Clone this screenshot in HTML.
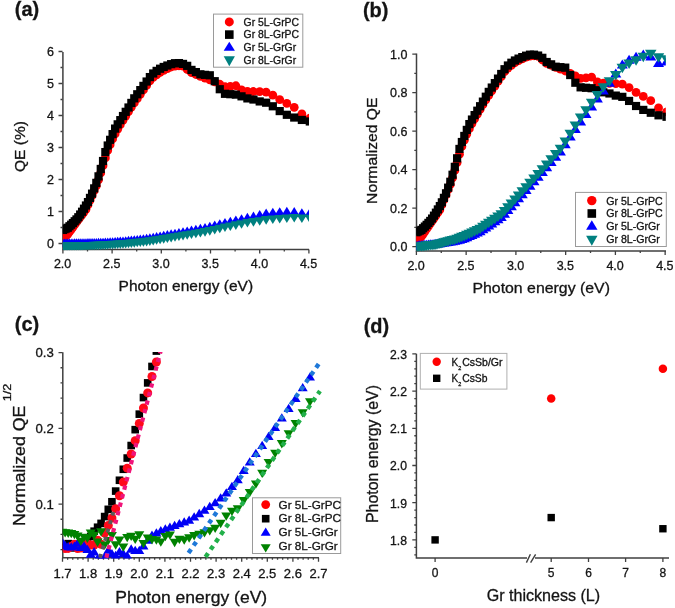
<!DOCTYPE html>
<html><head><meta charset="utf-8"><style>
html,body{margin:0;padding:0;background:#fff;}
svg{display:block;will-change:transform;filter:blur(0.35px);}
text{font-family:"Liberation Sans", sans-serif;fill:#141414;stroke:#141414;stroke-width:0.3px;}
</style></head><body>
<svg width="675" height="608" viewBox="0 0 675 608">
<rect width="675" height="608" fill="#fff"/>
<path d="M62.9 52V249.6H309" fill="none" stroke="#404040" stroke-width="1.5"/>
<text x="54" y="248.1" font-size="12.5" text-anchor="end" font-weight="normal">0</text>
<text x="54" y="216.1" font-size="12.5" text-anchor="end" font-weight="normal">1</text>
<text x="54" y="184.1" font-size="12.5" text-anchor="end" font-weight="normal">2</text>
<text x="54" y="152.1" font-size="12.5" text-anchor="end" font-weight="normal">3</text>
<text x="54" y="120.1" font-size="12.5" text-anchor="end" font-weight="normal">4</text>
<text x="54" y="88.1" font-size="12.5" text-anchor="end" font-weight="normal">5</text>
<text x="54" y="56.1" font-size="12.5" text-anchor="end" font-weight="normal">6</text>
<text x="62.6" y="268" font-size="12.5" text-anchor="middle" font-weight="normal">2.0</text>
<text x="111.8" y="268" font-size="12.5" text-anchor="middle" font-weight="normal">2.5</text>
<text x="161" y="268" font-size="12.5" text-anchor="middle" font-weight="normal">3.0</text>
<text x="210.2" y="268" font-size="12.5" text-anchor="middle" font-weight="normal">3.5</text>
<text x="259.4" y="268" font-size="12.5" text-anchor="middle" font-weight="normal">4.0</text>
<text x="308.6" y="268" font-size="12.5" text-anchor="middle" font-weight="normal">4.5</text>
<path d="M58.5 243.5H62.5M58.5 211.5H62.5M58.5 179.5H62.5M58.5 147.5H62.5M58.5 115.5H62.5M58.5 83.5H62.5M58.5 51.5H62.5M60.5 227.5H62.5M60.5 195.5H62.5M60.5 163.5H62.5M60.5 131.5H62.5M60.5 99.5H62.5M60.5 67.5H62.5M62.9 249.6V253.6M87.5 249.6V251.6M112.1 249.6V253.6M136.7 249.6V251.6M161.3 249.6V253.6M185.9 249.6V251.6M210.5 249.6V253.6M235.1 249.6V251.6M259.7 249.6V253.6M284.3 249.6V251.6M308.9 249.6V253.6" stroke="#404040" stroke-width="1.3"/>
<clipPath id="ca"><rect x="62.9" y="40" width="246.1" height="210.35"/></clipPath>
<g clip-path="url(#ca)">
<circle cx="62.9" cy="238.48" r="4.4" fill="#ff0000"/>
<circle cx="64.5" cy="237.24" r="4.4" fill="#ff0000"/>
<circle cx="66.13" cy="235.99" r="4.4" fill="#ff0000"/>
<circle cx="67.78" cy="234.15" r="4.4" fill="#ff0000"/>
<circle cx="69.46" cy="231.85" r="4.4" fill="#ff0000"/>
<circle cx="71.17" cy="229.52" r="4.4" fill="#ff0000"/>
<circle cx="72.91" cy="227.13" r="4.4" fill="#ff0000"/>
<circle cx="74.67" cy="224.69" r="4.4" fill="#ff0000"/>
<circle cx="76.47" cy="222.2" r="4.4" fill="#ff0000"/>
<circle cx="78.3" cy="219.7" r="4.4" fill="#ff0000"/>
<circle cx="80.16" cy="217.2" r="4.4" fill="#ff0000"/>
<circle cx="82.06" cy="214.65" r="4.4" fill="#ff0000"/>
<circle cx="83.99" cy="212.06" r="4.4" fill="#ff0000"/>
<circle cx="85.95" cy="209.4" r="4.4" fill="#ff0000"/>
<circle cx="87.95" cy="204.88" r="4.4" fill="#ff0000"/>
<circle cx="89.98" cy="200.27" r="4.4" fill="#ff0000"/>
<circle cx="92.06" cy="195.58" r="4.4" fill="#ff0000"/>
<circle cx="94.17" cy="190.75" r="4.4" fill="#ff0000"/>
<circle cx="96.32" cy="185.81" r="4.4" fill="#ff0000"/>
<circle cx="98.51" cy="179.84" r="4.4" fill="#ff0000"/>
<circle cx="100.75" cy="172.92" r="4.4" fill="#ff0000"/>
<circle cx="103.02" cy="165.68" r="4.4" fill="#ff0000"/>
<circle cx="105.35" cy="157.89" r="4.4" fill="#ff0000"/>
<circle cx="107.72" cy="150.46" r="4.4" fill="#ff0000"/>
<circle cx="110.13" cy="144.65" r="4.4" fill="#ff0000"/>
<circle cx="112.6" cy="138.94" r="4.4" fill="#ff0000"/>
<circle cx="115.11" cy="134" r="4.4" fill="#ff0000"/>
<circle cx="117.68" cy="129.14" r="4.4" fill="#ff0000"/>
<circle cx="120.3" cy="124.75" r="4.4" fill="#ff0000"/>
<circle cx="122.98" cy="120.36" r="4.4" fill="#ff0000"/>
<circle cx="125.71" cy="116.03" r="4.4" fill="#ff0000"/>
<circle cx="128.5" cy="111.61" r="4.4" fill="#ff0000"/>
<circle cx="131.35" cy="107.09" r="4.4" fill="#ff0000"/>
<circle cx="134.27" cy="102.88" r="4.4" fill="#ff0000"/>
<circle cx="137.25" cy="98.65" r="4.4" fill="#ff0000"/>
<circle cx="140.29" cy="94.32" r="4.4" fill="#ff0000"/>
<circle cx="143.41" cy="89.93" r="4.4" fill="#ff0000"/>
<circle cx="146.6" cy="85.46" r="4.4" fill="#ff0000"/>
<circle cx="149.86" cy="80.88" r="4.4" fill="#ff0000"/>
<circle cx="153.2" cy="77.37" r="4.4" fill="#ff0000"/>
<circle cx="156.61" cy="74.88" r="4.4" fill="#ff0000"/>
<circle cx="160.11" cy="72.33" r="4.4" fill="#ff0000"/>
<circle cx="163.7" cy="70.38" r="4.4" fill="#ff0000"/>
<circle cx="167.37" cy="68.7" r="4.4" fill="#ff0000"/>
<circle cx="171.14" cy="66.99" r="4.4" fill="#ff0000"/>
<circle cx="175" cy="66.05" r="4.4" fill="#ff0000"/>
<circle cx="178.96" cy="65.73" r="4.4" fill="#ff0000"/>
<circle cx="183.02" cy="66.15" r="4.4" fill="#ff0000"/>
<circle cx="187.19" cy="69.48" r="4.4" fill="#ff0000"/>
<circle cx="191.48" cy="72.64" r="4.4" fill="#ff0000"/>
<circle cx="195.87" cy="74.48" r="4.4" fill="#ff0000"/>
<circle cx="200.39" cy="76.37" r="4.4" fill="#ff0000"/>
<circle cx="205.03" cy="78.08" r="4.4" fill="#ff0000"/>
<circle cx="209.81" cy="79.82" r="4.4" fill="#ff0000"/>
<circle cx="214.72" cy="81.93" r="4.4" fill="#ff0000"/>
<circle cx="219.77" cy="84.25" r="4.4" fill="#ff0000"/>
<circle cx="224.97" cy="86.74" r="4.4" fill="#ff0000"/>
<circle cx="230.33" cy="86.34" r="4.4" fill="#ff0000"/>
<circle cx="235.85" cy="85.75" r="4.4" fill="#ff0000"/>
<circle cx="241.53" cy="89.83" r="4.4" fill="#ff0000"/>
<circle cx="247.4" cy="91.32" r="4.4" fill="#ff0000"/>
<circle cx="253.45" cy="91.52" r="4.4" fill="#ff0000"/>
<circle cx="259.7" cy="91.72" r="4.4" fill="#ff0000"/>
<circle cx="266.15" cy="92.05" r="4.4" fill="#ff0000"/>
<circle cx="272.82" cy="95.2" r="4.4" fill="#ff0000"/>
<circle cx="279.71" cy="99.57" r="4.4" fill="#ff0000"/>
<circle cx="286.84" cy="103.43" r="4.4" fill="#ff0000"/>
<circle cx="294.23" cy="107.36" r="4.4" fill="#ff0000"/>
<circle cx="301.87" cy="113.89" r="4.4" fill="#ff0000"/>
<circle cx="309.79" cy="118.06" r="4.4" fill="#ff0000"/>
<rect x="58.8" y="225.84" width="8.2" height="8.2" fill="#000000"/>
<rect x="60.4" y="225.13" width="8.2" height="8.2" fill="#000000"/>
<rect x="62.03" y="224.42" width="8.2" height="8.2" fill="#000000"/>
<rect x="63.68" y="223.69" width="8.2" height="8.2" fill="#000000"/>
<rect x="65.36" y="222.16" width="8.2" height="8.2" fill="#000000"/>
<rect x="67.07" y="220.59" width="8.2" height="8.2" fill="#000000"/>
<rect x="68.81" y="218.98" width="8.2" height="8.2" fill="#000000"/>
<rect x="70.57" y="217.16" width="8.2" height="8.2" fill="#000000"/>
<rect x="72.37" y="215.31" width="8.2" height="8.2" fill="#000000"/>
<rect x="74.2" y="213.14" width="8.2" height="8.2" fill="#000000"/>
<rect x="76.06" y="210.41" width="8.2" height="8.2" fill="#000000"/>
<rect x="77.96" y="207.62" width="8.2" height="8.2" fill="#000000"/>
<rect x="79.89" y="204.58" width="8.2" height="8.2" fill="#000000"/>
<rect x="81.85" y="201.41" width="8.2" height="8.2" fill="#000000"/>
<rect x="83.85" y="197.98" width="8.2" height="8.2" fill="#000000"/>
<rect x="85.88" y="193.79" width="8.2" height="8.2" fill="#000000"/>
<rect x="87.96" y="189.53" width="8.2" height="8.2" fill="#000000"/>
<rect x="90.07" y="184.28" width="8.2" height="8.2" fill="#000000"/>
<rect x="92.22" y="178.75" width="8.2" height="8.2" fill="#000000"/>
<rect x="94.41" y="172.25" width="8.2" height="8.2" fill="#000000"/>
<rect x="96.65" y="164.85" width="8.2" height="8.2" fill="#000000"/>
<rect x="98.92" y="156.9" width="8.2" height="8.2" fill="#000000"/>
<rect x="101.25" y="147.99" width="8.2" height="8.2" fill="#000000"/>
<rect x="103.62" y="141.41" width="8.2" height="8.2" fill="#000000"/>
<rect x="106.03" y="135.72" width="8.2" height="8.2" fill="#000000"/>
<rect x="108.5" y="130.03" width="8.2" height="8.2" fill="#000000"/>
<rect x="111.01" y="124.49" width="8.2" height="8.2" fill="#000000"/>
<rect x="113.58" y="120.24" width="8.2" height="8.2" fill="#000000"/>
<rect x="116.2" y="116.04" width="8.2" height="8.2" fill="#000000"/>
<rect x="118.88" y="111.92" width="8.2" height="8.2" fill="#000000"/>
<rect x="121.61" y="107.71" width="8.2" height="8.2" fill="#000000"/>
<rect x="124.4" y="103.4" width="8.2" height="8.2" fill="#000000"/>
<rect x="127.25" y="98.81" width="8.2" height="8.2" fill="#000000"/>
<rect x="130.17" y="94.23" width="8.2" height="8.2" fill="#000000"/>
<rect x="133.15" y="90.17" width="8.2" height="8.2" fill="#000000"/>
<rect x="136.19" y="86.02" width="8.2" height="8.2" fill="#000000"/>
<rect x="139.31" y="81.78" width="8.2" height="8.2" fill="#000000"/>
<rect x="142.5" y="77.43" width="8.2" height="8.2" fill="#000000"/>
<rect x="145.76" y="72.98" width="8.2" height="8.2" fill="#000000"/>
<rect x="149.1" y="69.37" width="8.2" height="8.2" fill="#000000"/>
<rect x="152.51" y="66.78" width="8.2" height="8.2" fill="#000000"/>
<rect x="156.01" y="64.61" width="8.2" height="8.2" fill="#000000"/>
<rect x="159.6" y="62.86" width="8.2" height="8.2" fill="#000000"/>
<rect x="163.27" y="61.41" width="8.2" height="8.2" fill="#000000"/>
<rect x="167.04" y="60.05" width="8.2" height="8.2" fill="#000000"/>
<rect x="170.9" y="59.1" width="8.2" height="8.2" fill="#000000"/>
<rect x="174.86" y="58.99" width="8.2" height="8.2" fill="#000000"/>
<rect x="178.92" y="59.82" width="8.2" height="8.2" fill="#000000"/>
<rect x="183.09" y="61.74" width="8.2" height="8.2" fill="#000000"/>
<rect x="187.38" y="65.8" width="8.2" height="8.2" fill="#000000"/>
<rect x="191.77" y="67.98" width="8.2" height="8.2" fill="#000000"/>
<rect x="196.29" y="70.22" width="8.2" height="8.2" fill="#000000"/>
<rect x="200.93" y="70.75" width="8.2" height="8.2" fill="#000000"/>
<rect x="205.71" y="71.19" width="8.2" height="8.2" fill="#000000"/>
<rect x="210.62" y="77.1" width="8.2" height="8.2" fill="#000000"/>
<rect x="215.67" y="85.12" width="8.2" height="8.2" fill="#000000"/>
<rect x="220.87" y="89.71" width="8.2" height="8.2" fill="#000000"/>
<rect x="226.23" y="90.1" width="8.2" height="8.2" fill="#000000"/>
<rect x="231.75" y="90.51" width="8.2" height="8.2" fill="#000000"/>
<rect x="237.43" y="92.24" width="8.2" height="8.2" fill="#000000"/>
<rect x="243.3" y="94.31" width="8.2" height="8.2" fill="#000000"/>
<rect x="249.35" y="95.42" width="8.2" height="8.2" fill="#000000"/>
<rect x="255.6" y="97.34" width="8.2" height="8.2" fill="#000000"/>
<rect x="262.05" y="98.6" width="8.2" height="8.2" fill="#000000"/>
<rect x="268.72" y="102.18" width="8.2" height="8.2" fill="#000000"/>
<rect x="275.61" y="106.98" width="8.2" height="8.2" fill="#000000"/>
<rect x="282.74" y="110.69" width="8.2" height="8.2" fill="#000000"/>
<rect x="290.13" y="113.44" width="8.2" height="8.2" fill="#000000"/>
<rect x="297.77" y="115.85" width="8.2" height="8.2" fill="#000000"/>
<rect x="305.69" y="117.36" width="8.2" height="8.2" fill="#000000"/>
<path d="M57.65 247.16L68.15 247.16L62.9 238.56Z" fill="#0000ff"/>
<path d="M59.25 247.13L69.75 247.13L64.5 238.53Z" fill="#0000ff"/>
<path d="M60.88 247.11L71.38 247.11L66.13 238.51Z" fill="#0000ff"/>
<path d="M62.53 247.08L73.03 247.08L67.78 238.48Z" fill="#0000ff"/>
<path d="M64.21 247.05L74.71 247.05L69.46 238.45Z" fill="#0000ff"/>
<path d="M65.92 247.03L76.42 247.03L71.17 238.43Z" fill="#0000ff"/>
<path d="M67.66 247L78.16 247L72.91 238.4Z" fill="#0000ff"/>
<path d="M69.42 246.97L79.92 246.97L74.67 238.37Z" fill="#0000ff"/>
<path d="M71.22 246.94L81.72 246.94L76.47 238.34Z" fill="#0000ff"/>
<path d="M73.05 246.91L83.55 246.91L78.3 238.31Z" fill="#0000ff"/>
<path d="M74.91 246.88L85.41 246.88L80.16 238.28Z" fill="#0000ff"/>
<path d="M76.81 246.85L87.31 246.85L82.06 238.25Z" fill="#0000ff"/>
<path d="M78.74 246.8L89.24 246.8L83.99 238.2Z" fill="#0000ff"/>
<path d="M80.7 246.75L91.2 246.75L85.95 238.15Z" fill="#0000ff"/>
<path d="M82.7 246.7L93.2 246.7L87.95 238.1Z" fill="#0000ff"/>
<path d="M84.73 246.65L95.23 246.65L89.98 238.05Z" fill="#0000ff"/>
<path d="M86.81 246.59L97.31 246.59L92.06 237.99Z" fill="#0000ff"/>
<path d="M88.92 246.54L99.42 246.54L94.17 237.94Z" fill="#0000ff"/>
<path d="M91.07 246.48L101.57 246.48L96.32 237.88Z" fill="#0000ff"/>
<path d="M93.26 246.43L103.76 246.43L98.51 237.83Z" fill="#0000ff"/>
<path d="M95.5 246.37L106 246.37L100.75 237.77Z" fill="#0000ff"/>
<path d="M97.77 246.29L108.27 246.29L103.02 237.69Z" fill="#0000ff"/>
<path d="M100.1 246.17L110.6 246.17L105.35 237.57Z" fill="#0000ff"/>
<path d="M102.47 246.04L112.97 246.04L107.72 237.44Z" fill="#0000ff"/>
<path d="M104.88 245.92L115.38 245.92L110.13 237.32Z" fill="#0000ff"/>
<path d="M107.35 245.78L117.85 245.78L112.6 237.18Z" fill="#0000ff"/>
<path d="M109.86 245.59L120.36 245.59L115.11 236.99Z" fill="#0000ff"/>
<path d="M112.43 245.39L122.93 245.39L117.68 236.79Z" fill="#0000ff"/>
<path d="M115.05 245.19L125.55 245.19L120.3 236.59Z" fill="#0000ff"/>
<path d="M117.73 244.98L128.23 244.98L122.98 236.38Z" fill="#0000ff"/>
<path d="M120.46 244.77L130.96 244.77L125.71 236.17Z" fill="#0000ff"/>
<path d="M123.25 244.47L133.75 244.47L128.5 235.87Z" fill="#0000ff"/>
<path d="M126.1 244.14L136.6 244.14L131.35 235.54Z" fill="#0000ff"/>
<path d="M129.02 243.82L139.52 243.82L134.27 235.22Z" fill="#0000ff"/>
<path d="M132 243.48L142.5 243.48L137.25 234.88Z" fill="#0000ff"/>
<path d="M135.04 243.14L145.54 243.14L140.29 234.54Z" fill="#0000ff"/>
<path d="M138.16 242.79L148.66 242.79L143.41 234.19Z" fill="#0000ff"/>
<path d="M141.35 242.43L151.85 242.43L146.6 233.83Z" fill="#0000ff"/>
<path d="M144.61 241.89L155.11 241.89L149.86 233.29Z" fill="#0000ff"/>
<path d="M147.95 241.27L158.45 241.27L153.2 232.67Z" fill="#0000ff"/>
<path d="M151.36 240.64L161.86 240.64L156.61 232.04Z" fill="#0000ff"/>
<path d="M154.86 239.99L165.36 239.99L160.11 231.39Z" fill="#0000ff"/>
<path d="M158.45 239.32L168.95 239.32L163.7 230.72Z" fill="#0000ff"/>
<path d="M162.12 238.64L172.62 238.64L167.37 230.04Z" fill="#0000ff"/>
<path d="M165.89 237.94L176.39 237.94L171.14 229.34Z" fill="#0000ff"/>
<path d="M169.75 237.23L180.25 237.23L175 228.63Z" fill="#0000ff"/>
<path d="M173.71 236.5L184.21 236.5L178.96 227.9Z" fill="#0000ff"/>
<path d="M177.77 235.75L188.27 235.75L183.02 227.15Z" fill="#0000ff"/>
<path d="M181.94 234.98L192.44 234.98L187.19 226.38Z" fill="#0000ff"/>
<path d="M186.23 234.17L196.73 234.17L191.48 225.57Z" fill="#0000ff"/>
<path d="M190.62 233.32L201.12 233.32L195.87 224.72Z" fill="#0000ff"/>
<path d="M195.14 232.45L205.64 232.45L200.39 223.85Z" fill="#0000ff"/>
<path d="M199.78 231.55L210.28 231.55L205.03 222.95Z" fill="#0000ff"/>
<path d="M204.56 230.39L215.06 230.39L209.81 221.79Z" fill="#0000ff"/>
<path d="M209.47 229.09L219.97 229.09L214.72 220.49Z" fill="#0000ff"/>
<path d="M214.52 227.82L225.02 227.82L219.77 219.22Z" fill="#0000ff"/>
<path d="M219.72 226.61L230.22 226.61L224.97 218.01Z" fill="#0000ff"/>
<path d="M225.08 225.37L235.58 225.37L230.33 216.77Z" fill="#0000ff"/>
<path d="M230.6 224.08L241.1 224.08L235.85 215.48Z" fill="#0000ff"/>
<path d="M236.28 222.78L246.78 222.78L241.53 214.18Z" fill="#0000ff"/>
<path d="M242.15 221.46L252.65 221.46L247.4 212.86Z" fill="#0000ff"/>
<path d="M248.2 220.18L258.7 220.18L253.45 211.58Z" fill="#0000ff"/>
<path d="M254.45 218.62L264.95 218.62L259.7 210.02Z" fill="#0000ff"/>
<path d="M260.9 217.15L271.4 217.15L266.15 208.55Z" fill="#0000ff"/>
<path d="M267.57 216.28L278.07 216.28L272.82 207.68Z" fill="#0000ff"/>
<path d="M274.46 215.78L284.96 215.78L279.71 207.18Z" fill="#0000ff"/>
<path d="M281.59 215.39L292.09 215.39L286.84 206.79Z" fill="#0000ff"/>
<path d="M288.98 215.66L299.48 215.66L294.23 207.06Z" fill="#0000ff"/>
<path d="M296.62 216.82L307.12 216.82L301.87 208.22Z" fill="#0000ff"/>
<path d="M304.54 216.54L315.04 216.54L309.79 207.94Z" fill="#0000ff"/>
<path d="M57.65 242.61L68.15 242.61L62.9 251.21Z" fill="#008080"/>
<path d="M59.25 242.58L69.75 242.58L64.5 251.18Z" fill="#008080"/>
<path d="M60.88 242.55L71.38 242.55L66.13 251.15Z" fill="#008080"/>
<path d="M62.53 242.53L73.03 242.53L67.78 251.13Z" fill="#008080"/>
<path d="M64.21 242.5L74.71 242.5L69.46 251.1Z" fill="#008080"/>
<path d="M65.92 242.47L76.42 242.47L71.17 251.07Z" fill="#008080"/>
<path d="M67.66 242.44L78.16 242.44L72.91 251.04Z" fill="#008080"/>
<path d="M69.42 242.41L79.92 242.41L74.67 251.01Z" fill="#008080"/>
<path d="M71.22 242.37L81.72 242.37L76.47 250.97Z" fill="#008080"/>
<path d="M73.05 242.34L83.55 242.34L78.3 250.94Z" fill="#008080"/>
<path d="M74.91 242.31L85.41 242.31L80.16 250.91Z" fill="#008080"/>
<path d="M76.81 242.28L87.31 242.28L82.06 250.88Z" fill="#008080"/>
<path d="M78.74 242.21L89.24 242.21L83.99 250.81Z" fill="#008080"/>
<path d="M80.7 242.13L91.2 242.13L85.95 250.73Z" fill="#008080"/>
<path d="M82.7 242.05L93.2 242.05L87.95 250.65Z" fill="#008080"/>
<path d="M84.73 241.97L95.23 241.97L89.98 250.57Z" fill="#008080"/>
<path d="M86.81 241.88L97.31 241.88L92.06 250.48Z" fill="#008080"/>
<path d="M88.92 241.8L99.42 241.8L94.17 250.4Z" fill="#008080"/>
<path d="M91.07 241.71L101.57 241.71L96.32 250.31Z" fill="#008080"/>
<path d="M93.26 241.62L103.76 241.62L98.51 250.22Z" fill="#008080"/>
<path d="M95.5 241.53L106 241.53L100.75 250.13Z" fill="#008080"/>
<path d="M97.77 241.42L108.27 241.42L103.02 250.02Z" fill="#008080"/>
<path d="M100.1 241.29L110.6 241.29L105.35 249.89Z" fill="#008080"/>
<path d="M102.47 241.15L112.97 241.15L107.72 249.75Z" fill="#008080"/>
<path d="M104.88 241.01L115.38 241.01L110.13 249.61Z" fill="#008080"/>
<path d="M107.35 240.86L117.85 240.86L112.6 249.46Z" fill="#008080"/>
<path d="M109.86 240.68L120.36 240.68L115.11 249.28Z" fill="#008080"/>
<path d="M112.43 240.5L122.93 240.5L117.68 249.1Z" fill="#008080"/>
<path d="M115.05 240.32L125.55 240.32L120.3 248.92Z" fill="#008080"/>
<path d="M117.73 240.13L128.23 240.13L122.98 248.73Z" fill="#008080"/>
<path d="M120.46 239.94L130.96 239.94L125.71 248.54Z" fill="#008080"/>
<path d="M123.25 239.66L133.75 239.66L128.5 248.26Z" fill="#008080"/>
<path d="M126.1 239.37L136.6 239.37L131.35 247.97Z" fill="#008080"/>
<path d="M129.02 239.07L139.52 239.07L134.27 247.67Z" fill="#008080"/>
<path d="M132 238.77L142.5 238.77L137.25 247.37Z" fill="#008080"/>
<path d="M135.04 238.46L145.54 238.46L140.29 247.06Z" fill="#008080"/>
<path d="M138.16 238.14L148.66 238.14L143.41 246.74Z" fill="#008080"/>
<path d="M141.35 237.82L151.85 237.82L146.6 246.42Z" fill="#008080"/>
<path d="M144.61 237.34L155.11 237.34L149.86 245.94Z" fill="#008080"/>
<path d="M147.95 236.78L158.45 236.78L153.2 245.38Z" fill="#008080"/>
<path d="M151.36 236.22L161.86 236.22L156.61 244.82Z" fill="#008080"/>
<path d="M154.86 235.63L165.36 235.63L160.11 244.23Z" fill="#008080"/>
<path d="M158.45 235.04L168.95 235.04L163.7 243.64Z" fill="#008080"/>
<path d="M162.12 234.43L172.62 234.43L167.37 243.03Z" fill="#008080"/>
<path d="M165.89 233.81L176.39 233.81L171.14 242.41Z" fill="#008080"/>
<path d="M169.75 233.17L180.25 233.17L175 241.77Z" fill="#008080"/>
<path d="M173.71 232.52L184.21 232.52L178.96 241.12Z" fill="#008080"/>
<path d="M177.77 231.85L188.27 231.85L183.02 240.45Z" fill="#008080"/>
<path d="M181.94 231.16L192.44 231.16L187.19 239.76Z" fill="#008080"/>
<path d="M186.23 230.44L196.73 230.44L191.48 239.04Z" fill="#008080"/>
<path d="M190.62 229.68L201.12 229.68L195.87 238.28Z" fill="#008080"/>
<path d="M195.14 228.9L205.64 228.9L200.39 237.5Z" fill="#008080"/>
<path d="M199.78 228.1L210.28 228.1L205.03 236.7Z" fill="#008080"/>
<path d="M204.56 227.07L215.06 227.07L209.81 235.67Z" fill="#008080"/>
<path d="M209.47 225.9L219.97 225.9L214.72 234.5Z" fill="#008080"/>
<path d="M214.52 224.7L225.02 224.7L219.77 233.3Z" fill="#008080"/>
<path d="M219.72 223.5L230.22 223.5L224.97 232.1Z" fill="#008080"/>
<path d="M225.08 222.42L235.58 222.42L230.33 231.02Z" fill="#008080"/>
<path d="M230.6 221.31L241.1 221.31L235.85 229.91Z" fill="#008080"/>
<path d="M236.28 220.16L246.78 220.16L241.53 228.76Z" fill="#008080"/>
<path d="M242.15 218.99L252.65 218.99L247.4 227.59Z" fill="#008080"/>
<path d="M248.2 218.1L258.7 218.1L253.45 226.7Z" fill="#008080"/>
<path d="M254.45 217.18L264.95 217.18L259.7 225.78Z" fill="#008080"/>
<path d="M260.9 216.12L271.4 216.12L266.15 224.72Z" fill="#008080"/>
<path d="M267.57 215.43L278.07 215.43L272.82 224.03Z" fill="#008080"/>
<path d="M274.46 214.95L284.96 214.95L279.71 223.55Z" fill="#008080"/>
<path d="M281.59 214.44L292.09 214.44L286.84 223.04Z" fill="#008080"/>
<path d="M288.98 213.93L299.48 213.93L294.23 222.53Z" fill="#008080"/>
<path d="M296.62 214.44L307.12 214.44L301.87 223.04Z" fill="#008080"/>
<path d="M304.54 214.78L315.04 214.78L309.79 223.38Z" fill="#008080"/>
</g>
<text x="185.85" y="291" font-size="15" text-anchor="middle" font-weight="normal" textLength="134.5" lengthAdjust="spacingAndGlyphs">Photon energy (eV)</text>
<text transform="translate(25.3,146.5) rotate(-90)" font-size="15" text-anchor="middle" textLength="51" lengthAdjust="spacingAndGlyphs">QE (%)</text>
<text x="14.8" y="15.6" font-size="20.5" text-anchor="start" font-weight="bold" textLength="24.5" lengthAdjust="spacingAndGlyphs">(a)</text>
<rect x="213.5" y="14.1" width="89.3" height="53.1" fill="#fff" stroke="#9a9a9a" stroke-width="1"/>
<circle cx="229.3" cy="21.9" r="4.5" fill="#ff0000"/>
<rect x="225" y="30.3" width="8.6" height="8.6" fill="#000000"/>
<path d="M223.7 50.7L234.9 50.7L229.3 41.7Z" fill="#0000ff"/>
<path d="M223.7 56.3L234.9 56.3L229.3 66.3Z" fill="#008080"/>
<text x="243.6" y="26" font-size="10.4" text-anchor="start" font-weight="normal" textLength="55.47" lengthAdjust="spacingAndGlyphs">Gr 5L-GrPC</text>
<text x="243.6" y="38.3" font-size="10.4" text-anchor="start" font-weight="normal" textLength="55.47" lengthAdjust="spacingAndGlyphs">Gr 8L-GrPC</text>
<text x="243.6" y="51" font-size="10.4" text-anchor="start" font-weight="normal" textLength="52.58" lengthAdjust="spacingAndGlyphs">Gr 5L-GrGr</text>
<text x="243.6" y="63.5" font-size="10.4" text-anchor="start" font-weight="normal" textLength="52.58" lengthAdjust="spacingAndGlyphs">Gr 8L-GrGr</text>
<path d="M416.5 53.5V250.9H666" fill="none" stroke="#404040" stroke-width="1.5"/>
<text x="407.4" y="251.1" font-size="12.5" text-anchor="end" font-weight="normal">0.0</text>
<text x="407.4" y="212.6" font-size="12.5" text-anchor="end" font-weight="normal">0.2</text>
<text x="407.4" y="174.1" font-size="12.5" text-anchor="end" font-weight="normal">0.4</text>
<text x="407.4" y="135.6" font-size="12.5" text-anchor="end" font-weight="normal">0.6</text>
<text x="407.4" y="97.1" font-size="12.5" text-anchor="end" font-weight="normal">0.8</text>
<text x="407.4" y="58.6" font-size="12.5" text-anchor="end" font-weight="normal">1.0</text>
<text x="416.1" y="269.5" font-size="12.5" text-anchor="middle" font-weight="normal">2.0</text>
<text x="465.85" y="269.5" font-size="12.5" text-anchor="middle" font-weight="normal">2.5</text>
<text x="515.6" y="269.5" font-size="12.5" text-anchor="middle" font-weight="normal">3.0</text>
<text x="565.35" y="269.5" font-size="12.5" text-anchor="middle" font-weight="normal">3.5</text>
<text x="615.1" y="269.5" font-size="12.5" text-anchor="middle" font-weight="normal">4.0</text>
<text x="664.85" y="269.5" font-size="12.5" text-anchor="middle" font-weight="normal">4.5</text>
<path d="M412.3 246.7H416.3M414.3 227.45H416.3M412.3 208.2H416.3M414.3 188.95H416.3M412.3 169.7H416.3M414.3 150.45H416.3M412.3 131.2H416.3M414.3 111.95H416.3M412.3 92.7H416.3M414.3 73.45H416.3M412.3 54.2H416.3M416.4 250.9V254.9M441.27 250.9V252.9M466.15 250.9V254.9M491.02 250.9V252.9M515.9 250.9V254.9M540.77 250.9V252.9M565.65 250.9V254.9M590.52 250.9V252.9M615.4 250.9V254.9M640.27 250.9V252.9M665.15 250.9V254.9" stroke="#404040" stroke-width="1.3"/>
<clipPath id="cb"><rect x="416.5" y="40" width="249.3" height="211.6"/></clipPath>
<g clip-path="url(#cb)">
<circle cx="416.5" cy="241.23" r="4.4" fill="#ff0000"/>
<circle cx="418.12" cy="239.9" r="4.4" fill="#ff0000"/>
<circle cx="419.76" cy="238.55" r="4.4" fill="#ff0000"/>
<circle cx="421.44" cy="236.51" r="4.4" fill="#ff0000"/>
<circle cx="423.14" cy="234.04" r="4.4" fill="#ff0000"/>
<circle cx="424.87" cy="231.53" r="4.4" fill="#ff0000"/>
<circle cx="426.63" cy="228.96" r="4.4" fill="#ff0000"/>
<circle cx="428.41" cy="226.34" r="4.4" fill="#ff0000"/>
<circle cx="430.23" cy="223.66" r="4.4" fill="#ff0000"/>
<circle cx="432.09" cy="220.97" r="4.4" fill="#ff0000"/>
<circle cx="433.97" cy="218.28" r="4.4" fill="#ff0000"/>
<circle cx="435.89" cy="215.54" r="4.4" fill="#ff0000"/>
<circle cx="437.84" cy="212.76" r="4.4" fill="#ff0000"/>
<circle cx="439.83" cy="209.78" r="4.4" fill="#ff0000"/>
<circle cx="441.85" cy="204.92" r="4.4" fill="#ff0000"/>
<circle cx="443.91" cy="199.96" r="4.4" fill="#ff0000"/>
<circle cx="446.01" cy="194.92" r="4.4" fill="#ff0000"/>
<circle cx="448.15" cy="189.72" r="4.4" fill="#ff0000"/>
<circle cx="450.32" cy="184.41" r="4.4" fill="#ff0000"/>
<circle cx="452.54" cy="177.87" r="4.4" fill="#ff0000"/>
<circle cx="454.81" cy="170.43" r="4.4" fill="#ff0000"/>
<circle cx="457.11" cy="162.6" r="4.4" fill="#ff0000"/>
<circle cx="459.46" cy="154.23" r="4.4" fill="#ff0000"/>
<circle cx="461.86" cy="146.39" r="4.4" fill="#ff0000"/>
<circle cx="464.31" cy="140.14" r="4.4" fill="#ff0000"/>
<circle cx="466.8" cy="134.07" r="4.4" fill="#ff0000"/>
<circle cx="469.35" cy="128.75" r="4.4" fill="#ff0000"/>
<circle cx="471.95" cy="123.57" r="4.4" fill="#ff0000"/>
<circle cx="474.6" cy="118.85" r="4.4" fill="#ff0000"/>
<circle cx="477.31" cy="114.15" r="4.4" fill="#ff0000"/>
<circle cx="480.08" cy="109.49" r="4.4" fill="#ff0000"/>
<circle cx="482.9" cy="104.73" r="4.4" fill="#ff0000"/>
<circle cx="485.79" cy="99.87" r="4.4" fill="#ff0000"/>
<circle cx="488.74" cy="95.37" r="4.4" fill="#ff0000"/>
<circle cx="491.76" cy="90.82" r="4.4" fill="#ff0000"/>
<circle cx="494.85" cy="86.16" r="4.4" fill="#ff0000"/>
<circle cx="498" cy="81.44" r="4.4" fill="#ff0000"/>
<circle cx="501.23" cy="76.63" r="4.4" fill="#ff0000"/>
<circle cx="504.53" cy="71.71" r="4.4" fill="#ff0000"/>
<circle cx="507.91" cy="68.08" r="4.4" fill="#ff0000"/>
<circle cx="511.37" cy="65.4" r="4.4" fill="#ff0000"/>
<circle cx="514.92" cy="62.66" r="4.4" fill="#ff0000"/>
<circle cx="518.55" cy="60.62" r="4.4" fill="#ff0000"/>
<circle cx="522.27" cy="58.82" r="4.4" fill="#ff0000"/>
<circle cx="526.08" cy="57.03" r="4.4" fill="#ff0000"/>
<circle cx="529.99" cy="56.02" r="4.4" fill="#ff0000"/>
<circle cx="534" cy="55.76" r="4.4" fill="#ff0000"/>
<circle cx="538.12" cy="56.4" r="4.4" fill="#ff0000"/>
<circle cx="542.34" cy="59.98" r="4.4" fill="#ff0000"/>
<circle cx="546.68" cy="63.27" r="4.4" fill="#ff0000"/>
<circle cx="551.13" cy="65.26" r="4.4" fill="#ff0000"/>
<circle cx="555.71" cy="67.29" r="4.4" fill="#ff0000"/>
<circle cx="560.41" cy="69.11" r="4.4" fill="#ff0000"/>
<circle cx="565.24" cy="70.98" r="4.4" fill="#ff0000"/>
<circle cx="570.22" cy="73.29" r="4.4" fill="#ff0000"/>
<circle cx="575.33" cy="75.79" r="4.4" fill="#ff0000"/>
<circle cx="580.6" cy="78.45" r="4.4" fill="#ff0000"/>
<circle cx="586.03" cy="77.84" r="4.4" fill="#ff0000"/>
<circle cx="591.62" cy="77.21" r="4.4" fill="#ff0000"/>
<circle cx="597.38" cy="81.97" r="4.4" fill="#ff0000"/>
<circle cx="603.32" cy="83.24" r="4.4" fill="#ff0000"/>
<circle cx="609.46" cy="83.45" r="4.4" fill="#ff0000"/>
<circle cx="615.79" cy="83.67" r="4.4" fill="#ff0000"/>
<circle cx="622.32" cy="84.04" r="4.4" fill="#ff0000"/>
<circle cx="629.08" cy="87.61" r="4.4" fill="#ff0000"/>
<circle cx="636.06" cy="92.4" r="4.4" fill="#ff0000"/>
<circle cx="643.29" cy="96.47" r="4.4" fill="#ff0000"/>
<circle cx="650.77" cy="100.72" r="4.4" fill="#ff0000"/>
<circle cx="658.52" cy="107.95" r="4.4" fill="#ff0000"/>
<circle cx="666.54" cy="111.95" r="4.4" fill="#ff0000"/>
<rect x="412.4" y="228.12" width="8.2" height="8.2" fill="#000000"/>
<rect x="414.02" y="227.37" width="8.2" height="8.2" fill="#000000"/>
<rect x="415.66" y="226.6" width="8.2" height="8.2" fill="#000000"/>
<rect x="417.34" y="225.79" width="8.2" height="8.2" fill="#000000"/>
<rect x="419.04" y="224.15" width="8.2" height="8.2" fill="#000000"/>
<rect x="420.77" y="222.48" width="8.2" height="8.2" fill="#000000"/>
<rect x="422.53" y="220.74" width="8.2" height="8.2" fill="#000000"/>
<rect x="424.31" y="218.8" width="8.2" height="8.2" fill="#000000"/>
<rect x="426.13" y="216.83" width="8.2" height="8.2" fill="#000000"/>
<rect x="427.99" y="214.47" width="8.2" height="8.2" fill="#000000"/>
<rect x="429.87" y="211.56" width="8.2" height="8.2" fill="#000000"/>
<rect x="431.79" y="208.59" width="8.2" height="8.2" fill="#000000"/>
<rect x="433.74" y="205.33" width="8.2" height="8.2" fill="#000000"/>
<rect x="435.73" y="201.95" width="8.2" height="8.2" fill="#000000"/>
<rect x="437.75" y="198.23" width="8.2" height="8.2" fill="#000000"/>
<rect x="439.81" y="193.77" width="8.2" height="8.2" fill="#000000"/>
<rect x="441.91" y="189.22" width="8.2" height="8.2" fill="#000000"/>
<rect x="444.05" y="183.56" width="8.2" height="8.2" fill="#000000"/>
<rect x="446.22" y="177.66" width="8.2" height="8.2" fill="#000000"/>
<rect x="448.44" y="170.63" width="8.2" height="8.2" fill="#000000"/>
<rect x="450.71" y="162.75" width="8.2" height="8.2" fill="#000000"/>
<rect x="453.01" y="154.2" width="8.2" height="8.2" fill="#000000"/>
<rect x="455.36" y="144.84" width="8.2" height="8.2" fill="#000000"/>
<rect x="457.76" y="137.91" width="8.2" height="8.2" fill="#000000"/>
<rect x="460.21" y="131.84" width="8.2" height="8.2" fill="#000000"/>
<rect x="462.7" y="125.8" width="8.2" height="8.2" fill="#000000"/>
<rect x="465.25" y="119.99" width="8.2" height="8.2" fill="#000000"/>
<rect x="467.85" y="115.45" width="8.2" height="8.2" fill="#000000"/>
<rect x="470.5" y="110.99" width="8.2" height="8.2" fill="#000000"/>
<rect x="473.21" y="106.61" width="8.2" height="8.2" fill="#000000"/>
<rect x="475.98" y="102.12" width="8.2" height="8.2" fill="#000000"/>
<rect x="478.8" y="97.52" width="8.2" height="8.2" fill="#000000"/>
<rect x="481.69" y="92.62" width="8.2" height="8.2" fill="#000000"/>
<rect x="484.64" y="87.78" width="8.2" height="8.2" fill="#000000"/>
<rect x="487.66" y="83.46" width="8.2" height="8.2" fill="#000000"/>
<rect x="490.75" y="79.03" width="8.2" height="8.2" fill="#000000"/>
<rect x="493.9" y="74.5" width="8.2" height="8.2" fill="#000000"/>
<rect x="497.13" y="69.87" width="8.2" height="8.2" fill="#000000"/>
<rect x="500.43" y="65.13" width="8.2" height="8.2" fill="#000000"/>
<rect x="503.81" y="61.4" width="8.2" height="8.2" fill="#000000"/>
<rect x="507.27" y="58.64" width="8.2" height="8.2" fill="#000000"/>
<rect x="510.82" y="56.39" width="8.2" height="8.2" fill="#000000"/>
<rect x="514.45" y="54.52" width="8.2" height="8.2" fill="#000000"/>
<rect x="518.17" y="53.01" width="8.2" height="8.2" fill="#000000"/>
<rect x="521.98" y="51.58" width="8.2" height="8.2" fill="#000000"/>
<rect x="525.89" y="50.57" width="8.2" height="8.2" fill="#000000"/>
<rect x="529.9" y="50.57" width="8.2" height="8.2" fill="#000000"/>
<rect x="534.02" y="51.45" width="8.2" height="8.2" fill="#000000"/>
<rect x="538.24" y="53.72" width="8.2" height="8.2" fill="#000000"/>
<rect x="542.58" y="57.9" width="8.2" height="8.2" fill="#000000"/>
<rect x="547.03" y="60.23" width="8.2" height="8.2" fill="#000000"/>
<rect x="551.61" y="62.61" width="8.2" height="8.2" fill="#000000"/>
<rect x="556.31" y="63.07" width="8.2" height="8.2" fill="#000000"/>
<rect x="561.14" y="63.54" width="8.2" height="8.2" fill="#000000"/>
<rect x="566.12" y="70.94" width="8.2" height="8.2" fill="#000000"/>
<rect x="571.23" y="78.63" width="8.2" height="8.2" fill="#000000"/>
<rect x="576.5" y="83.24" width="8.2" height="8.2" fill="#000000"/>
<rect x="581.93" y="83.67" width="8.2" height="8.2" fill="#000000"/>
<rect x="587.52" y="84.1" width="8.2" height="8.2" fill="#000000"/>
<rect x="593.28" y="86.06" width="8.2" height="8.2" fill="#000000"/>
<rect x="599.22" y="88.19" width="8.2" height="8.2" fill="#000000"/>
<rect x="605.36" y="89.38" width="8.2" height="8.2" fill="#000000"/>
<rect x="611.69" y="91.49" width="8.2" height="8.2" fill="#000000"/>
<rect x="618.22" y="92.75" width="8.2" height="8.2" fill="#000000"/>
<rect x="624.98" y="96.84" width="8.2" height="8.2" fill="#000000"/>
<rect x="631.96" y="101.91" width="8.2" height="8.2" fill="#000000"/>
<rect x="639.19" y="105.8" width="8.2" height="8.2" fill="#000000"/>
<rect x="646.67" y="108.65" width="8.2" height="8.2" fill="#000000"/>
<rect x="654.42" y="111.21" width="8.2" height="8.2" fill="#000000"/>
<rect x="662.44" y="112.66" width="8.2" height="8.2" fill="#000000"/>
<path d="M411 249.65L422 249.65L416.5 240.65Z" fill="#0000ff"/>
<path d="M412.62 249.49L423.62 249.49L418.12 240.49Z" fill="#0000ff"/>
<path d="M414.26 249.33L425.26 249.33L419.76 240.33Z" fill="#0000ff"/>
<path d="M415.94 249.17L426.94 249.17L421.44 240.17Z" fill="#0000ff"/>
<path d="M417.64 249.01L428.64 249.01L423.14 240.01Z" fill="#0000ff"/>
<path d="M419.37 248.84L430.37 248.84L424.87 239.84Z" fill="#0000ff"/>
<path d="M421.13 248.67L432.13 248.67L426.63 239.67Z" fill="#0000ff"/>
<path d="M422.91 248.5L433.91 248.5L428.41 239.5Z" fill="#0000ff"/>
<path d="M424.73 248.32L435.73 248.32L430.23 239.32Z" fill="#0000ff"/>
<path d="M426.59 248.14L437.59 248.14L432.09 239.14Z" fill="#0000ff"/>
<path d="M428.47 247.96L439.47 247.96L433.97 238.96Z" fill="#0000ff"/>
<path d="M430.39 247.77L441.39 247.77L435.89 238.77Z" fill="#0000ff"/>
<path d="M432.34 247.5L443.34 247.5L437.84 238.5Z" fill="#0000ff"/>
<path d="M434.33 247.19L445.33 247.19L439.83 238.19Z" fill="#0000ff"/>
<path d="M436.35 246.88L447.35 246.88L441.85 237.88Z" fill="#0000ff"/>
<path d="M438.41 246.56L449.41 246.56L443.91 237.56Z" fill="#0000ff"/>
<path d="M440.51 246.23L451.51 246.23L446.01 237.23Z" fill="#0000ff"/>
<path d="M442.65 245.9L453.65 245.9L448.15 236.9Z" fill="#0000ff"/>
<path d="M444.82 245.56L455.82 245.56L450.32 236.56Z" fill="#0000ff"/>
<path d="M447.04 245.22L458.04 245.22L452.54 236.22Z" fill="#0000ff"/>
<path d="M449.31 244.87L460.31 244.87L454.81 235.87Z" fill="#0000ff"/>
<path d="M451.61 244.37L462.61 244.37L457.11 235.37Z" fill="#0000ff"/>
<path d="M453.96 243.64L464.96 243.64L459.46 234.64Z" fill="#0000ff"/>
<path d="M456.36 242.9L467.36 242.9L461.86 233.9Z" fill="#0000ff"/>
<path d="M458.81 242.15L469.81 242.15L464.31 233.15Z" fill="#0000ff"/>
<path d="M461.3 241.28L472.3 241.28L466.8 232.28Z" fill="#0000ff"/>
<path d="M463.85 240.12L474.85 240.12L469.35 231.12Z" fill="#0000ff"/>
<path d="M466.45 238.93L477.45 238.93L471.95 229.93Z" fill="#0000ff"/>
<path d="M469.1 237.72L480.1 237.72L474.6 228.72Z" fill="#0000ff"/>
<path d="M471.81 236.49L482.81 236.49L477.31 227.49Z" fill="#0000ff"/>
<path d="M474.58 235.22L485.58 235.22L480.08 226.22Z" fill="#0000ff"/>
<path d="M477.4 233.33L488.4 233.33L482.9 224.33Z" fill="#0000ff"/>
<path d="M480.29 231.4L491.29 231.4L485.79 222.4Z" fill="#0000ff"/>
<path d="M483.24 229.43L494.24 229.43L488.74 220.43Z" fill="#0000ff"/>
<path d="M486.26 227.42L497.26 227.42L491.76 218.42Z" fill="#0000ff"/>
<path d="M489.35 225.35L500.35 225.35L494.85 216.35Z" fill="#0000ff"/>
<path d="M492.5 223.25L503.5 223.25L498 214.25Z" fill="#0000ff"/>
<path d="M495.73 221.09L506.73 221.09L501.23 212.09Z" fill="#0000ff"/>
<path d="M499.03 217.76L510.03 217.76L504.53 208.76Z" fill="#0000ff"/>
<path d="M502.41 214.02L513.41 214.02L507.91 205.02Z" fill="#0000ff"/>
<path d="M505.87 210.2L516.87 210.2L511.37 201.2Z" fill="#0000ff"/>
<path d="M509.42 206.28L520.42 206.28L514.92 197.28Z" fill="#0000ff"/>
<path d="M513.05 202.27L524.05 202.27L518.55 193.27Z" fill="#0000ff"/>
<path d="M516.77 198.15L527.77 198.15L522.27 189.15Z" fill="#0000ff"/>
<path d="M520.58 193.96L531.58 193.96L526.08 184.96Z" fill="#0000ff"/>
<path d="M524.49 189.66L535.49 189.66L529.99 180.66Z" fill="#0000ff"/>
<path d="M528.5 185.25L539.5 185.25L534 176.25Z" fill="#0000ff"/>
<path d="M532.62 180.73L543.62 180.73L538.12 171.73Z" fill="#0000ff"/>
<path d="M536.84 176.08L547.84 176.08L542.34 167.08Z" fill="#0000ff"/>
<path d="M541.18 171.22L552.18 171.22L546.68 162.22Z" fill="#0000ff"/>
<path d="M545.63 166.1L556.63 166.1L551.13 157.1Z" fill="#0000ff"/>
<path d="M550.21 160.84L561.21 160.84L555.71 151.84Z" fill="#0000ff"/>
<path d="M554.91 155.44L565.91 155.44L560.41 146.44Z" fill="#0000ff"/>
<path d="M559.74 148.33L570.74 148.33L565.24 139.33Z" fill="#0000ff"/>
<path d="M564.72 140.46L575.72 140.46L570.22 131.46Z" fill="#0000ff"/>
<path d="M569.83 132.9L580.83 132.9L575.33 123.9Z" fill="#0000ff"/>
<path d="M575.1 125.62L586.1 125.62L580.6 116.62Z" fill="#0000ff"/>
<path d="M580.53 118.11L591.53 118.11L586.03 109.11Z" fill="#0000ff"/>
<path d="M586.12 110.38L597.12 110.38L591.62 101.38Z" fill="#0000ff"/>
<path d="M591.88 102.54L602.88 102.54L597.38 93.54Z" fill="#0000ff"/>
<path d="M597.82 94.58L608.82 94.58L603.32 85.58Z" fill="#0000ff"/>
<path d="M603.96 86.87L614.96 86.87L609.46 77.87Z" fill="#0000ff"/>
<path d="M610.29 77.43L621.29 77.43L615.79 68.43Z" fill="#0000ff"/>
<path d="M616.82 68.57L627.82 68.57L622.32 59.57Z" fill="#0000ff"/>
<path d="M623.58 63.75L634.58 63.75L629.08 54.75Z" fill="#0000ff"/>
<path d="M630.56 60.76L641.56 60.76L636.06 51.76Z" fill="#0000ff"/>
<path d="M637.79 58.38L648.79 58.38L643.29 49.38Z" fill="#0000ff"/>
<path d="M645.27 60.41L656.27 60.41L650.77 51.41Z" fill="#0000ff"/>
<path d="M653.02 67.04L664.02 67.04L658.52 58.04Z" fill="#0000ff"/>
<path d="M661.04 65.44L672.04 65.44L666.54 56.44Z" fill="#0000ff"/>
<path d="M410.75 242.71L422.25 242.71L416.5 252.21Z" fill="#008080"/>
<path d="M412.37 242.52L423.87 242.52L418.12 252.02Z" fill="#008080"/>
<path d="M414.01 242.33L425.51 242.33L419.76 251.83Z" fill="#008080"/>
<path d="M415.69 242.14L427.19 242.14L421.44 251.64Z" fill="#008080"/>
<path d="M417.39 241.94L428.89 241.94L423.14 251.44Z" fill="#008080"/>
<path d="M419.12 241.74L430.62 241.74L424.87 251.24Z" fill="#008080"/>
<path d="M420.88 241.53L432.38 241.53L426.63 251.03Z" fill="#008080"/>
<path d="M422.66 241.33L434.16 241.33L428.41 250.83Z" fill="#008080"/>
<path d="M424.48 241.11L435.98 241.11L430.23 250.61Z" fill="#008080"/>
<path d="M426.34 240.9L437.84 240.9L432.09 250.4Z" fill="#008080"/>
<path d="M428.22 240.68L439.72 240.68L433.97 250.18Z" fill="#008080"/>
<path d="M430.14 240.46L441.64 240.46L435.89 249.96Z" fill="#008080"/>
<path d="M432.09 239.99L443.59 239.99L437.84 249.49Z" fill="#008080"/>
<path d="M434.08 239.45L445.58 239.45L439.83 248.95Z" fill="#008080"/>
<path d="M436.1 238.91L447.6 238.91L441.85 248.41Z" fill="#008080"/>
<path d="M438.16 238.35L449.66 238.35L443.91 247.85Z" fill="#008080"/>
<path d="M440.26 237.78L451.76 237.78L446.01 247.28Z" fill="#008080"/>
<path d="M442.4 237.2L453.9 237.2L448.15 246.7Z" fill="#008080"/>
<path d="M444.57 236.61L456.07 236.61L450.32 246.11Z" fill="#008080"/>
<path d="M446.79 236.01L458.29 236.01L452.54 245.51Z" fill="#008080"/>
<path d="M449.06 235.4L460.56 235.4L454.81 244.9Z" fill="#008080"/>
<path d="M451.36 234.67L462.86 234.67L457.11 244.17Z" fill="#008080"/>
<path d="M453.71 233.76L465.21 233.76L459.46 243.26Z" fill="#008080"/>
<path d="M456.11 232.83L467.61 232.83L461.86 242.33Z" fill="#008080"/>
<path d="M458.56 231.88L470.06 231.88L464.31 241.38Z" fill="#008080"/>
<path d="M461.05 230.86L472.55 230.86L466.8 240.36Z" fill="#008080"/>
<path d="M463.6 229.67L475.1 229.67L469.35 239.17Z" fill="#008080"/>
<path d="M466.2 228.45L477.7 228.45L471.95 237.95Z" fill="#008080"/>
<path d="M468.85 227.2L480.35 227.2L474.6 236.7Z" fill="#008080"/>
<path d="M471.56 225.93L483.06 225.93L477.31 235.43Z" fill="#008080"/>
<path d="M474.33 224.63L485.83 224.63L480.08 234.13Z" fill="#008080"/>
<path d="M477.15 222.71L488.65 222.71L482.9 232.21Z" fill="#008080"/>
<path d="M480.04 220.76L491.54 220.76L485.79 230.26Z" fill="#008080"/>
<path d="M482.99 218.76L494.49 218.76L488.74 228.26Z" fill="#008080"/>
<path d="M486.01 216.72L497.51 216.72L491.76 226.22Z" fill="#008080"/>
<path d="M489.1 214.63L500.6 214.63L494.85 224.13Z" fill="#008080"/>
<path d="M492.25 212.49L503.75 212.49L498 221.99Z" fill="#008080"/>
<path d="M495.48 210.3L506.98 210.3L501.23 219.8Z" fill="#008080"/>
<path d="M498.78 206.97L510.28 206.97L504.53 216.47Z" fill="#008080"/>
<path d="M502.16 203.23L513.66 203.23L507.91 212.73Z" fill="#008080"/>
<path d="M505.62 199.41L517.12 199.41L511.37 208.91Z" fill="#008080"/>
<path d="M509.17 195.49L520.67 195.49L514.92 204.99Z" fill="#008080"/>
<path d="M512.8 191.48L524.3 191.48L518.55 200.98Z" fill="#008080"/>
<path d="M516.52 187.36L528.02 187.36L522.27 196.86Z" fill="#008080"/>
<path d="M520.33 183.17L531.83 183.17L526.08 192.67Z" fill="#008080"/>
<path d="M524.24 178.87L535.74 178.87L529.99 188.37Z" fill="#008080"/>
<path d="M528.25 174.46L539.75 174.46L534 183.96Z" fill="#008080"/>
<path d="M532.37 169.94L543.87 169.94L538.12 179.44Z" fill="#008080"/>
<path d="M536.59 165.29L548.09 165.29L542.34 174.79Z" fill="#008080"/>
<path d="M540.93 160.43L552.43 160.43L546.68 169.93Z" fill="#008080"/>
<path d="M545.38 155.31L556.88 155.31L551.13 164.81Z" fill="#008080"/>
<path d="M549.96 150.05L561.46 150.05L555.71 159.55Z" fill="#008080"/>
<path d="M554.66 144.65L566.16 144.65L560.41 154.15Z" fill="#008080"/>
<path d="M559.49 137.54L570.99 137.54L565.24 147.04Z" fill="#008080"/>
<path d="M564.47 129.67L575.97 129.67L570.22 139.17Z" fill="#008080"/>
<path d="M569.58 121.59L581.08 121.59L575.33 131.09Z" fill="#008080"/>
<path d="M574.85 113.53L586.35 113.53L580.6 123.03Z" fill="#008080"/>
<path d="M580.28 106.26L591.78 106.26L586.03 115.76Z" fill="#008080"/>
<path d="M585.87 98.78L597.37 98.78L591.62 108.28Z" fill="#008080"/>
<path d="M591.63 90.98L603.13 90.98L597.38 100.48Z" fill="#008080"/>
<path d="M597.57 83.26L609.07 83.26L603.32 92.76Z" fill="#008080"/>
<path d="M603.71 77.23L615.21 77.23L609.46 86.73Z" fill="#008080"/>
<path d="M610.04 70.97L621.54 70.97L615.79 80.47Z" fill="#008080"/>
<path d="M616.57 63.81L628.07 63.81L622.32 73.31Z" fill="#008080"/>
<path d="M623.33 59.42L634.83 59.42L629.08 68.92Z" fill="#008080"/>
<path d="M630.31 56.21L641.81 56.21L636.06 65.71Z" fill="#008080"/>
<path d="M637.54 52.76L649.04 52.76L643.29 62.26Z" fill="#008080"/>
<path d="M645.02 49.69L656.52 49.69L650.77 59.19Z" fill="#008080"/>
<path d="M652.77 53.15L664.27 53.15L658.52 62.65Z" fill="#008080"/>
<path d="M660.79 55.22L672.29 55.22L666.54 64.72Z" fill="#008080"/>
</g>
<text x="541.2" y="293.3" font-size="15" text-anchor="middle" font-weight="normal" textLength="137.5" lengthAdjust="spacingAndGlyphs">Photon energy (eV)</text>
<text transform="translate(377.3,150.7) rotate(-90)" font-size="15.5" text-anchor="middle" textLength="106.5" lengthAdjust="spacingAndGlyphs">Normalized QE</text>
<text x="362.9" y="17.2" font-size="20.5" text-anchor="start" font-weight="bold" textLength="25.5" lengthAdjust="spacingAndGlyphs">(b)</text>
<rect x="575.5" y="192.4" width="90.8" height="54.1" fill="#fff" stroke="#9a9a9a" stroke-width="1"/>
<circle cx="591.8" cy="200.6" r="4.7" fill="#ff0000"/>
<rect x="587.5" y="209.2" width="8.6" height="8.6" fill="#000000"/>
<path d="M586.1 229.75L597.5 229.75L591.8 220.25Z" fill="#0000ff"/>
<path d="M586.1 235.7L597.5 235.7L591.8 245.7Z" fill="#008080"/>
<text x="606.2" y="204.5" font-size="10.5" text-anchor="start" font-weight="normal" textLength="56.57" lengthAdjust="spacingAndGlyphs">Gr 5L-GrPC</text>
<text x="606.2" y="217.3" font-size="10.5" text-anchor="start" font-weight="normal" textLength="56.57" lengthAdjust="spacingAndGlyphs">Gr 8L-GrPC</text>
<text x="606.2" y="230.1" font-size="10.5" text-anchor="start" font-weight="normal" textLength="53.62" lengthAdjust="spacingAndGlyphs">Gr 5L-GrGr</text>
<text x="606.2" y="242.8" font-size="10.5" text-anchor="start" font-weight="normal" textLength="53.62" lengthAdjust="spacingAndGlyphs">Gr 8L-GrGr</text>
<path d="M62.8 352.2V557.8H319" fill="none" stroke="#404040" stroke-width="1.5"/>
<text x="53.8" y="508.9" font-size="13.2" text-anchor="end" font-weight="normal">0.1</text>
<text x="53.8" y="433.15" font-size="13.2" text-anchor="end" font-weight="normal">0.2</text>
<text x="53.8" y="357.4" font-size="13.2" text-anchor="end" font-weight="normal">0.3</text>
<text x="62.5" y="577.6" font-size="13" text-anchor="middle" font-weight="normal">1.7</text>
<text x="88.1" y="577.6" font-size="13" text-anchor="middle" font-weight="normal">1.8</text>
<text x="113.7" y="577.6" font-size="13" text-anchor="middle" font-weight="normal">1.9</text>
<text x="139.3" y="577.6" font-size="13" text-anchor="middle" font-weight="normal">2.0</text>
<text x="164.9" y="577.6" font-size="13" text-anchor="middle" font-weight="normal">2.1</text>
<text x="190.5" y="577.6" font-size="13" text-anchor="middle" font-weight="normal">2.2</text>
<text x="216.1" y="577.6" font-size="13" text-anchor="middle" font-weight="normal">2.3</text>
<text x="241.7" y="577.6" font-size="13" text-anchor="middle" font-weight="normal">2.4</text>
<text x="267.3" y="577.6" font-size="13" text-anchor="middle" font-weight="normal">2.5</text>
<text x="292.9" y="577.6" font-size="13" text-anchor="middle" font-weight="normal">2.6</text>
<text x="318.5" y="577.6" font-size="13" text-anchor="middle" font-weight="normal">2.7</text>
<path d="M60.5 549.55H62.5M60.5 534.4H62.5M60.5 519.25H62.5M58.5 504.1H62.5M60.5 488.95H62.5M60.5 473.8H62.5M60.5 458.65H62.5M60.5 443.5H62.5M58.5 428.35H62.5M60.5 413.2H62.5M60.5 398.05H62.5M60.5 382.9H62.5M60.5 367.75H62.5M58.5 352.6H62.5M62.5 557.8V561.8M67.62 557.8V559.8M72.74 557.8V559.8M77.86 557.8V559.8M82.98 557.8V559.8M88.1 557.8V561.8M93.22 557.8V559.8M98.34 557.8V559.8M103.46 557.8V559.8M108.58 557.8V559.8M113.7 557.8V561.8M118.82 557.8V559.8M123.94 557.8V559.8M129.06 557.8V559.8M134.18 557.8V559.8M139.3 557.8V561.8M144.42 557.8V559.8M149.54 557.8V559.8M154.66 557.8V559.8M159.78 557.8V559.8M164.9 557.8V561.8M170.02 557.8V559.8M175.14 557.8V559.8M180.26 557.8V559.8M185.38 557.8V559.8M190.5 557.8V561.8M195.62 557.8V559.8M200.74 557.8V559.8M205.86 557.8V559.8M210.98 557.8V559.8M216.1 557.8V561.8M221.22 557.8V559.8M226.34 557.8V559.8M231.46 557.8V559.8M236.58 557.8V559.8M241.7 557.8V561.8M246.82 557.8V559.8M251.94 557.8V559.8M257.06 557.8V559.8M262.18 557.8V559.8M267.3 557.8V561.8M272.42 557.8V559.8M277.54 557.8V559.8M282.66 557.8V559.8M287.78 557.8V559.8M292.9 557.8V561.8M298.02 557.8V559.8M303.14 557.8V559.8M308.26 557.8V559.8M313.38 557.8V559.8M318.5 557.8V561.8" stroke="#404040" stroke-width="1.3"/>
<clipPath id="cc"><rect x="62.8" y="352" width="260" height="206.5"/></clipPath>
<g clip-path="url(#cc)">
<rect x="58.35" y="542.54" width="7.6" height="7.6" fill="#000000"/>
<rect x="61.35" y="543.75" width="7.6" height="7.6" fill="#000000"/>
<rect x="64.39" y="539.85" width="7.6" height="7.6" fill="#000000"/>
<rect x="67.47" y="544.12" width="7.6" height="7.6" fill="#000000"/>
<rect x="70.6" y="540.49" width="7.6" height="7.6" fill="#000000"/>
<rect x="73.77" y="541.67" width="7.6" height="7.6" fill="#000000"/>
<rect x="76.99" y="543.88" width="7.6" height="7.6" fill="#000000"/>
<rect x="80.25" y="539.42" width="7.6" height="7.6" fill="#000000"/>
<rect x="83.56" y="539.97" width="7.6" height="7.6" fill="#000000"/>
<rect x="86.92" y="532.71" width="7.6" height="7.6" fill="#000000"/>
<rect x="90.32" y="527.4" width="7.6" height="7.6" fill="#000000"/>
<rect x="93.78" y="523.44" width="7.6" height="7.6" fill="#000000"/>
<rect x="97.29" y="519.59" width="7.6" height="7.6" fill="#000000"/>
<rect x="100.85" y="512.76" width="7.6" height="7.6" fill="#000000"/>
<rect x="104.47" y="505.54" width="7.6" height="7.6" fill="#000000"/>
<rect x="108.14" y="497.96" width="7.6" height="7.6" fill="#000000"/>
<rect x="111.87" y="487.29" width="7.6" height="7.6" fill="#000000"/>
<rect x="115.66" y="476.47" width="7.6" height="7.6" fill="#000000"/>
<rect x="119.5" y="465.47" width="7.6" height="7.6" fill="#000000"/>
<rect x="123.41" y="454.24" width="7.6" height="7.6" fill="#000000"/>
<rect x="127.37" y="441.72" width="7.6" height="7.6" fill="#000000"/>
<rect x="131.4" y="425.86" width="7.6" height="7.6" fill="#000000"/>
<rect x="135.5" y="410.35" width="7.6" height="7.6" fill="#000000"/>
<rect x="139.66" y="393.77" width="7.6" height="7.6" fill="#000000"/>
<rect x="143.89" y="379.09" width="7.6" height="7.6" fill="#000000"/>
<rect x="148.19" y="362.66" width="7.6" height="7.6" fill="#000000"/>
<rect x="152.57" y="347.26" width="7.6" height="7.6" fill="#000000"/>
<rect x="157.01" y="332.27" width="7.6" height="7.6" fill="#000000"/>
<rect x="161.53" y="318.5" width="7.6" height="7.6" fill="#000000"/>
<rect x="166.13" y="318.5" width="7.6" height="7.6" fill="#000000"/>
<rect x="170.81" y="318.5" width="7.6" height="7.6" fill="#000000"/>
<rect x="175.57" y="318.5" width="7.6" height="7.6" fill="#000000"/>
<rect x="180.41" y="318.5" width="7.6" height="7.6" fill="#000000"/>
<rect x="185.34" y="318.5" width="7.6" height="7.6" fill="#000000"/>
<rect x="190.36" y="318.5" width="7.6" height="7.6" fill="#000000"/>
<rect x="195.46" y="318.5" width="7.6" height="7.6" fill="#000000"/>
<rect x="200.66" y="318.5" width="7.6" height="7.6" fill="#000000"/>
<rect x="205.96" y="318.5" width="7.6" height="7.6" fill="#000000"/>
<rect x="211.35" y="318.5" width="7.6" height="7.6" fill="#000000"/>
<rect x="216.85" y="318.5" width="7.6" height="7.6" fill="#000000"/>
<rect x="222.44" y="318.5" width="7.6" height="7.6" fill="#000000"/>
<rect x="228.15" y="318.5" width="7.6" height="7.6" fill="#000000"/>
<rect x="233.96" y="318.5" width="7.6" height="7.6" fill="#000000"/>
<rect x="239.89" y="318.5" width="7.6" height="7.6" fill="#000000"/>
<rect x="245.93" y="318.5" width="7.6" height="7.6" fill="#000000"/>
<rect x="252.09" y="318.5" width="7.6" height="7.6" fill="#000000"/>
<rect x="258.38" y="318.5" width="7.6" height="7.6" fill="#000000"/>
<rect x="264.79" y="318.5" width="7.6" height="7.6" fill="#000000"/>
<rect x="271.34" y="318.5" width="7.6" height="7.6" fill="#000000"/>
<rect x="278.02" y="318.5" width="7.6" height="7.6" fill="#000000"/>
<rect x="284.83" y="318.5" width="7.6" height="7.6" fill="#000000"/>
<rect x="291.79" y="318.5" width="7.6" height="7.6" fill="#000000"/>
<rect x="298.9" y="318.5" width="7.6" height="7.6" fill="#000000"/>
<rect x="306.17" y="318.5" width="7.6" height="7.6" fill="#000000"/>
<circle cx="62.15" cy="546.16" r="4.5" fill="#ff0a1a"/>
<circle cx="65.15" cy="548.45" r="4.5" fill="#ff0a1a"/>
<circle cx="68.19" cy="548.41" r="4.5" fill="#ff0a1a"/>
<circle cx="71.27" cy="546.48" r="4.5" fill="#ff0a1a"/>
<circle cx="74.4" cy="544.13" r="4.5" fill="#ff0a1a"/>
<circle cx="77.57" cy="548.49" r="4.5" fill="#ff0a1a"/>
<circle cx="80.79" cy="547.98" r="4.5" fill="#ff0a1a"/>
<circle cx="84.05" cy="545.63" r="4.5" fill="#ff0a1a"/>
<circle cx="87.36" cy="543.78" r="4.5" fill="#ff0a1a"/>
<circle cx="90.72" cy="545.12" r="4.5" fill="#ff0a1a"/>
<circle cx="94.12" cy="545.01" r="4.5" fill="#ff0a1a"/>
<circle cx="97.58" cy="540.27" r="4.5" fill="#ff0a1a"/>
<circle cx="101.09" cy="544.27" r="4.5" fill="#ff0a1a"/>
<circle cx="104.65" cy="533.09" r="4.5" fill="#ff0a1a"/>
<circle cx="108.27" cy="525.42" r="4.5" fill="#ff0a1a"/>
<circle cx="111.94" cy="517.95" r="4.5" fill="#ff0a1a"/>
<circle cx="115.67" cy="508.64" r="4.5" fill="#ff0a1a"/>
<circle cx="119.46" cy="495.75" r="4.5" fill="#ff0a1a"/>
<circle cx="123.3" cy="482.06" r="4.5" fill="#ff0a1a"/>
<circle cx="127.21" cy="468.16" r="4.5" fill="#ff0a1a"/>
<circle cx="131.17" cy="454.03" r="4.5" fill="#ff0a1a"/>
<circle cx="135.2" cy="440.65" r="4.5" fill="#ff0a1a"/>
<circle cx="139.3" cy="423.4" r="4.5" fill="#ff0a1a"/>
<circle cx="143.46" cy="408.01" r="4.5" fill="#ff0a1a"/>
<circle cx="147.69" cy="392.94" r="4.5" fill="#ff0a1a"/>
<circle cx="151.99" cy="376.49" r="4.5" fill="#ff0a1a"/>
<circle cx="156.37" cy="362.05" r="4.5" fill="#ff0a1a"/>
<circle cx="160.81" cy="347.27" r="4.5" fill="#ff0a1a"/>
<circle cx="165.33" cy="333.66" r="4.5" fill="#ff0a1a"/>
<circle cx="169.93" cy="333.66" r="4.5" fill="#ff0a1a"/>
<circle cx="174.61" cy="333.66" r="4.5" fill="#ff0a1a"/>
<circle cx="179.37" cy="333.66" r="4.5" fill="#ff0a1a"/>
<circle cx="184.21" cy="333.66" r="4.5" fill="#ff0a1a"/>
<circle cx="189.14" cy="333.66" r="4.5" fill="#ff0a1a"/>
<circle cx="194.16" cy="333.66" r="4.5" fill="#ff0a1a"/>
<circle cx="199.26" cy="333.66" r="4.5" fill="#ff0a1a"/>
<circle cx="204.46" cy="333.66" r="4.5" fill="#ff0a1a"/>
<circle cx="209.76" cy="333.66" r="4.5" fill="#ff0a1a"/>
<circle cx="215.15" cy="333.66" r="4.5" fill="#ff0a1a"/>
<circle cx="220.65" cy="333.66" r="4.5" fill="#ff0a1a"/>
<circle cx="226.24" cy="333.66" r="4.5" fill="#ff0a1a"/>
<circle cx="231.95" cy="333.66" r="4.5" fill="#ff0a1a"/>
<circle cx="237.76" cy="333.66" r="4.5" fill="#ff0a1a"/>
<circle cx="243.69" cy="333.66" r="4.5" fill="#ff0a1a"/>
<circle cx="249.73" cy="333.66" r="4.5" fill="#ff0a1a"/>
<circle cx="255.89" cy="333.66" r="4.5" fill="#ff0a1a"/>
<circle cx="262.18" cy="333.66" r="4.5" fill="#ff0a1a"/>
<circle cx="268.59" cy="333.66" r="4.5" fill="#ff0a1a"/>
<circle cx="275.14" cy="333.66" r="4.5" fill="#ff0a1a"/>
<circle cx="281.82" cy="333.66" r="4.5" fill="#ff0a1a"/>
<circle cx="288.63" cy="333.66" r="4.5" fill="#ff0a1a"/>
<circle cx="295.59" cy="333.66" r="4.5" fill="#ff0a1a"/>
<circle cx="302.7" cy="333.66" r="4.5" fill="#ff0a1a"/>
<circle cx="309.97" cy="333.66" r="4.5" fill="#ff0a1a"/>
<path d="M57.15 545.47L67.15 545.47L62.15 537.17Z" fill="#0000f5"/>
<path d="M60.15 549.11L70.15 549.11L65.15 540.81Z" fill="#0000f5"/>
<path d="M63.19 550.22L73.19 550.22L68.19 541.92Z" fill="#0000f5"/>
<path d="M66.27 550.61L76.27 550.61L71.27 542.31Z" fill="#0000f5"/>
<path d="M69.4 549.68L79.4 549.68L74.4 541.38Z" fill="#0000f5"/>
<path d="M72.57 546.84L82.57 546.84L77.57 538.54Z" fill="#0000f5"/>
<path d="M75.79 550.93L85.79 550.93L80.79 542.63Z" fill="#0000f5"/>
<path d="M79.05 549.46L89.05 549.46L84.05 541.16Z" fill="#0000f5"/>
<path d="M82.36 553.09L92.36 553.09L87.36 544.79Z" fill="#0000f5"/>
<path d="M85.72 557.75L95.72 557.75L90.72 549.45Z" fill="#0000f5"/>
<path d="M89.12 555.42L99.12 555.42L94.12 547.12Z" fill="#0000f5"/>
<path d="M92.58 562.08L102.58 562.08L97.58 553.78Z" fill="#0000f5"/>
<path d="M96.09 562.18L106.09 562.18L101.09 553.88Z" fill="#0000f5"/>
<path d="M99.65 560.24L109.65 560.24L104.65 551.94Z" fill="#0000f5"/>
<path d="M103.27 553.83L113.27 553.83L108.27 545.53Z" fill="#0000f5"/>
<path d="M106.94 557.33L116.94 557.33L111.94 549.03Z" fill="#0000f5"/>
<path d="M110.67 558.94L120.67 558.94L115.67 550.64Z" fill="#0000f5"/>
<path d="M114.46 555.29L124.46 555.29L119.46 546.99Z" fill="#0000f5"/>
<path d="M118.3 557.16L128.3 557.16L123.3 548.86Z" fill="#0000f5"/>
<path d="M122.21 559.31L132.21 559.31L127.21 551.01Z" fill="#0000f5"/>
<path d="M126.17 552.63L136.17 552.63L131.17 544.33Z" fill="#0000f5"/>
<path d="M130.2 553.99L140.2 553.99L135.2 545.69Z" fill="#0000f5"/>
<path d="M134.3 553.95L144.3 553.95L139.3 545.65Z" fill="#0000f5"/>
<path d="M138.46 549.44L148.46 549.44L143.46 541.14Z" fill="#0000f5"/>
<path d="M142.69 543.75L152.69 543.75L147.69 535.45Z" fill="#0000f5"/>
<path d="M146.99 538.73L156.99 538.73L151.99 530.43Z" fill="#0000f5"/>
<path d="M151.37 536.57L161.37 536.57L156.37 528.27Z" fill="#0000f5"/>
<path d="M155.81 534.38L165.81 534.38L160.81 526.08Z" fill="#0000f5"/>
<path d="M160.33 532.44L170.33 532.44L165.33 524.14Z" fill="#0000f5"/>
<path d="M164.93 530.77L174.93 530.77L169.93 522.47Z" fill="#0000f5"/>
<path d="M169.61 529.08L179.61 529.08L174.61 520.78Z" fill="#0000f5"/>
<path d="M174.37 527.35L184.37 527.35L179.37 519.05Z" fill="#0000f5"/>
<path d="M179.21 525.59L189.21 525.59L184.21 517.29Z" fill="#0000f5"/>
<path d="M184.14 523.8L194.14 523.8L189.14 515.5Z" fill="#0000f5"/>
<path d="M189.16 520.57L199.16 520.57L194.16 512.27Z" fill="#0000f5"/>
<path d="M194.26 517.15L204.26 517.15L199.26 508.85Z" fill="#0000f5"/>
<path d="M199.46 513.72L209.46 513.72L204.46 505.42Z" fill="#0000f5"/>
<path d="M204.76 510.06L214.76 510.06L209.76 501.76Z" fill="#0000f5"/>
<path d="M210.15 506.28L220.15 506.28L215.15 497.98Z" fill="#0000f5"/>
<path d="M215.65 501.45L225.65 501.45L220.65 493.15Z" fill="#0000f5"/>
<path d="M221.24 496.45L231.24 496.45L226.24 488.15Z" fill="#0000f5"/>
<path d="M226.95 490.01L236.95 490.01L231.95 481.71Z" fill="#0000f5"/>
<path d="M232.76 483.37L242.76 483.37L237.76 475.07Z" fill="#0000f5"/>
<path d="M238.69 473.94L248.69 473.94L243.69 465.64Z" fill="#0000f5"/>
<path d="M244.73 465.54L254.73 465.54L249.73 457.24Z" fill="#0000f5"/>
<path d="M250.89 457.03L260.89 457.03L255.89 448.73Z" fill="#0000f5"/>
<path d="M257.18 449.06L267.18 449.06L262.18 440.76Z" fill="#0000f5"/>
<path d="M263.59 440.12L273.59 440.12L268.59 431.82Z" fill="#0000f5"/>
<path d="M270.14 430.93L280.14 430.93L275.14 422.63Z" fill="#0000f5"/>
<path d="M276.82 421.55L286.82 421.55L281.82 413.25Z" fill="#0000f5"/>
<path d="M283.63 411.98L293.63 411.98L288.63 403.68Z" fill="#0000f5"/>
<path d="M290.59 401.96L300.59 401.96L295.59 393.66Z" fill="#0000f5"/>
<path d="M297.7 391.33L307.7 391.33L302.7 383.03Z" fill="#0000f5"/>
<path d="M304.97 380.48L314.97 380.48L309.97 372.18Z" fill="#0000f5"/>
<path d="M57.15 528.74L67.15 528.74L62.15 537.03Z" fill="#008200"/>
<path d="M60.15 529.13L70.15 529.13L65.15 537.43Z" fill="#008200"/>
<path d="M63.19 529.58L73.19 529.58L68.19 537.88Z" fill="#008200"/>
<path d="M66.27 530.03L76.27 530.03L71.27 538.33Z" fill="#008200"/>
<path d="M69.4 530.99L79.4 530.99L74.4 539.29Z" fill="#008200"/>
<path d="M72.57 532.39L82.57 532.39L77.57 540.69Z" fill="#008200"/>
<path d="M75.79 537.7L85.79 537.7L80.79 546Z" fill="#008200"/>
<path d="M79.05 533.71L89.05 533.71L84.05 542.01Z" fill="#008200"/>
<path d="M82.36 534.59L92.36 534.59L87.36 542.89Z" fill="#008200"/>
<path d="M85.72 529.42L95.72 529.42L90.72 537.72Z" fill="#008200"/>
<path d="M89.12 531.76L99.12 531.76L94.12 540.06Z" fill="#008200"/>
<path d="M92.58 538.59L102.58 538.59L97.58 546.89Z" fill="#008200"/>
<path d="M96.09 528.24L106.09 528.24L101.09 536.54Z" fill="#008200"/>
<path d="M99.65 541.45L109.65 541.45L104.65 549.75Z" fill="#008200"/>
<path d="M103.27 537.05L113.27 537.05L108.27 545.35Z" fill="#008200"/>
<path d="M106.94 532.06L116.94 532.06L111.94 540.36Z" fill="#008200"/>
<path d="M110.67 541.37L120.67 541.37L115.67 549.67Z" fill="#008200"/>
<path d="M114.46 536.42L124.46 536.42L119.46 544.72Z" fill="#008200"/>
<path d="M118.3 543.39L128.3 543.39L123.3 551.69Z" fill="#008200"/>
<path d="M122.21 534.01L132.21 534.01L127.21 542.31Z" fill="#008200"/>
<path d="M126.17 532.71L136.17 532.71L131.17 541.01Z" fill="#008200"/>
<path d="M130.2 535.78L140.2 535.78L135.2 544.08Z" fill="#008200"/>
<path d="M134.3 531.36L144.3 531.36L139.3 539.66Z" fill="#008200"/>
<path d="M138.46 540.04L148.46 540.04L143.46 548.34Z" fill="#008200"/>
<path d="M142.69 534.42L152.69 534.42L147.69 542.72Z" fill="#008200"/>
<path d="M146.99 536.12L156.99 536.12L151.99 544.42Z" fill="#008200"/>
<path d="M151.37 536.52L161.37 536.52L156.37 544.82Z" fill="#008200"/>
<path d="M155.81 538.57L165.81 538.57L160.81 546.87Z" fill="#008200"/>
<path d="M160.33 532.94L170.33 532.94L165.33 541.24Z" fill="#008200"/>
<path d="M164.93 531.53L174.93 531.53L169.93 539.83Z" fill="#008200"/>
<path d="M169.61 538.85L179.61 538.85L174.61 547.15Z" fill="#008200"/>
<path d="M174.37 535.63L184.37 535.63L179.37 543.93Z" fill="#008200"/>
<path d="M179.21 536.56L189.21 536.56L184.21 544.86Z" fill="#008200"/>
<path d="M184.14 534.34L194.14 534.34L189.14 542.64Z" fill="#008200"/>
<path d="M189.16 532.08L199.16 532.08L194.16 540.38Z" fill="#008200"/>
<path d="M194.26 530.63L204.26 530.63L199.26 538.93Z" fill="#008200"/>
<path d="M199.46 529.29L209.46 529.29L204.46 537.59Z" fill="#008200"/>
<path d="M204.76 527.26L214.76 527.26L209.76 535.56Z" fill="#008200"/>
<path d="M210.15 524.72L220.15 524.72L215.15 533.02Z" fill="#008200"/>
<path d="M215.65 519.83L225.65 519.83L220.65 528.13Z" fill="#008200"/>
<path d="M221.24 512.51L231.24 512.51L226.24 520.81Z" fill="#008200"/>
<path d="M226.95 507.75L236.95 507.75L231.95 516.05Z" fill="#008200"/>
<path d="M232.76 505.29L242.76 505.29L237.76 513.59Z" fill="#008200"/>
<path d="M238.69 496.91L248.69 496.91L243.69 505.21Z" fill="#008200"/>
<path d="M244.73 488.98L254.73 488.98L249.73 497.28Z" fill="#008200"/>
<path d="M250.89 480.43L260.89 480.43L255.89 488.73Z" fill="#008200"/>
<path d="M257.18 469.76L267.18 469.76L262.18 478.06Z" fill="#008200"/>
<path d="M263.59 459.05L273.59 459.05L268.59 467.35Z" fill="#008200"/>
<path d="M270.14 449.67L280.14 449.67L275.14 457.97Z" fill="#008200"/>
<path d="M276.82 440.09L286.82 440.09L281.82 448.39Z" fill="#008200"/>
<path d="M283.63 430.32L293.63 430.32L288.63 438.62Z" fill="#008200"/>
<path d="M290.59 420.08L300.59 420.08L295.59 428.38Z" fill="#008200"/>
<path d="M297.7 409.23L307.7 409.23L302.7 417.53Z" fill="#008200"/>
<path d="M304.97 398.14L314.97 398.14L309.97 406.44Z" fill="#008200"/>
<line x1="100" y1="557.8" x2="113.4" y2="512" stroke="#5a5a5a" stroke-width="3.8" stroke-dasharray="4 4.8"/>
<line x1="106.3" y1="557.8" x2="161.2" y2="349" stroke="#f0147a" stroke-width="4.2" stroke-dasharray="4.3 4.5"/>
<line x1="188.5" y1="553" x2="320" y2="362" stroke="#1e78d8" stroke-width="4.4" stroke-dasharray="4.5 4.5"/>
<line x1="205.5" y1="557" x2="320" y2="391" stroke="#22b04a" stroke-width="4.4" stroke-dasharray="4.5 4.5"/>
</g>
<text x="191.2" y="602.6" font-size="16.5" text-anchor="middle" font-weight="normal" textLength="152" lengthAdjust="spacingAndGlyphs">Photon energy (eV)</text>
<text transform="translate(24.7,465.8) rotate(-90)" font-size="16.3" text-anchor="middle" textLength="120.5" lengthAdjust="spacingAndGlyphs">Normalized QE</text>
<text transform="translate(11.3,392.4) rotate(-90)" font-size="10.5" text-anchor="middle" textLength="17.5" lengthAdjust="spacingAndGlyphs">1/2</text>
<text x="14.8" y="331.3" font-size="20.5" text-anchor="start" font-weight="bold" textLength="24.5" lengthAdjust="spacingAndGlyphs">(c)</text>
<rect x="252.5" y="497.8" width="88.2" height="55.7" fill="#fff" stroke="#9a9a9a" stroke-width="1"/>
<circle cx="265.7" cy="504.6" r="4.4" fill="#ff0000"/>
<rect x="261.9" y="514.9" width="7.6" height="7.6" fill="#000000"/>
<path d="M260.7 535.75L270.7 535.75L265.7 527.45Z" fill="#0000ff"/>
<path d="M260.7 544.25L270.7 544.25L265.7 552.55Z" fill="#008200"/>
<text x="278.6" y="508.6" font-size="11" text-anchor="start" font-weight="normal" textLength="62.31" lengthAdjust="spacingAndGlyphs">Gr 5L-GrPC</text>
<text x="278.6" y="522.3" font-size="11" text-anchor="start" font-weight="normal" textLength="62.31" lengthAdjust="spacingAndGlyphs">Gr 8L-GrPC</text>
<text x="278.6" y="535.9" font-size="11" text-anchor="start" font-weight="normal" textLength="59.06" lengthAdjust="spacingAndGlyphs">Gr 5L-GrGr</text>
<text x="278.6" y="550.1" font-size="11" text-anchor="start" font-weight="normal" textLength="59.06" lengthAdjust="spacingAndGlyphs">Gr 8L-GrGr</text>
<path d="M416.4 353.7V558.1H527M535 558.1H669" fill="none" stroke="#404040" stroke-width="1.5"/>
<path d="M526.4 562.6L530.4 554.3M530.6 562.6L535.6 554.3" stroke="#404040" stroke-width="1.4"/>
<text x="407" y="544.8" font-size="12.2" text-anchor="end" font-weight="normal">1.8</text>
<text x="407" y="507.6" font-size="12.2" text-anchor="end" font-weight="normal">1.9</text>
<text x="407" y="470.4" font-size="12.2" text-anchor="end" font-weight="normal">2.0</text>
<text x="407" y="433.2" font-size="12.2" text-anchor="end" font-weight="normal">2.1</text>
<text x="407" y="396" font-size="12.2" text-anchor="end" font-weight="normal">2.2</text>
<text x="407" y="358.8" font-size="12.2" text-anchor="end" font-weight="normal">2.3</text>
<text x="435.1" y="576.5" font-size="12" text-anchor="middle" font-weight="normal">0</text>
<text x="551.2" y="576.5" font-size="12" text-anchor="middle" font-weight="normal">5</text>
<text x="588.5" y="576.5" font-size="12" text-anchor="middle" font-weight="normal">6</text>
<text x="625.6" y="576.5" font-size="12" text-anchor="middle" font-weight="normal">7</text>
<text x="662.9" y="576.5" font-size="12" text-anchor="middle" font-weight="normal">8</text>
<path d="M414.3 554.78H416.3M414.3 547.34H416.3M412.3 539.9H416.3M414.3 532.46H416.3M414.3 525.02H416.3M414.3 517.58H416.3M414.3 510.14H416.3M412.3 502.7H416.3M414.3 495.26H416.3M414.3 487.82H416.3M414.3 480.38H416.3M414.3 472.94H416.3M412.3 465.5H416.3M414.3 458.06H416.3M414.3 450.62H416.3M414.3 443.18H416.3M414.3 435.74H416.3M412.3 428.3H416.3M414.3 420.86H416.3M414.3 413.42H416.3M414.3 405.98H416.3M414.3 398.54H416.3M412.3 391.1H416.3M414.3 383.66H416.3M414.3 376.22H416.3M414.3 368.78H416.3M414.3 361.34H416.3M412.3 353.9H416.3M435.1 558.1V562.1M551.2 558.1V562.1M588.5 558.1V562.1M625.6 558.1V562.1M662.9 558.1V562.1" stroke="#404040" stroke-width="1.3"/>
<text x="543.4" y="601" font-size="16" text-anchor="middle" font-weight="normal" textLength="113.5" lengthAdjust="spacingAndGlyphs">Gr thickness (L)</text>
<text transform="translate(377.7,454) rotate(-90)" font-size="16" text-anchor="middle" textLength="138" lengthAdjust="spacingAndGlyphs">Photon energy (eV)</text>
<text x="363.7" y="333.1" font-size="20.5" text-anchor="start" font-weight="bold" textLength="25.5" lengthAdjust="spacingAndGlyphs">(d)</text>
<rect x="431.4" y="536.2" width="7.4" height="7.4" fill="#000000"/>
<rect x="547.5" y="513.88" width="7.4" height="7.4" fill="#000000"/>
<rect x="659.2" y="525.04" width="7.4" height="7.4" fill="#000000"/>
<circle cx="551.2" cy="398.54" r="4.25" fill="#ff0000"/>
<circle cx="662.9" cy="368.78" r="4.25" fill="#ff0000"/>
<rect x="420.3" y="353.4" width="86.6" height="35.7" fill="#fff" stroke="#b0b0b0" stroke-width="1"/>
<circle cx="436.7" cy="361.7" r="4.2" fill="#ff0000"/>
<rect x="433" y="374.6" width="7.4" height="7.4" fill="#000000"/>
<text x="451.5" y="365.6" font-size="10">K</text><text x="458.3" y="369.6" font-size="5.5">2</text><text x="462.2" y="365.6" font-size="10" textLength="40.3" lengthAdjust="spacingAndGlyphs">CsSb/Gr</text>
<text x="451.5" y="381.6" font-size="10">K</text><text x="458.3" y="385.6" font-size="5.5">2</text><text x="462.2" y="381.6" font-size="10" textLength="25.3" lengthAdjust="spacingAndGlyphs">CsSb</text>
</svg>
</body></html>
